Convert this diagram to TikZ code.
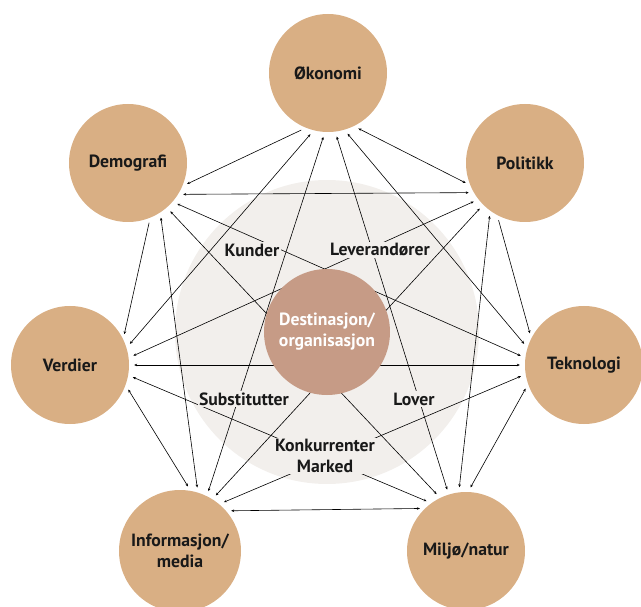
\documentclass[tikz,border=0pt]{standalone}
\usepackage{fontspec}
\setmainfont{PT Sans}
\usetikzlibrary{arrows.meta,backgrounds}

\definecolor{sand}{RGB}{217,175,132}
\definecolor{rose}{RGB}{198,155,134}
\definecolor{mist}{RGB}{242,239,236}

\begin{document}
\begin{tikzpicture}[x=1pt, y=-1pt, >={Stealth[length=3pt,width=2.6pt]},
  factor/.style={circle, fill=sand, minimum size=118pt, inner sep=0pt, align=center, text=black!90, font=\fontsize{17.7}{21}\selectfont\bfseries},
  force/.style={fill=mist, inner sep=1.5pt, align=center, text=black!90, font=\fontsize{17.7}{21}\selectfont\bfseries},
  link/.style={line width=0.6pt, shorten <=5pt, shorten >=5pt}]

\useasboundingbox (0,0) rectangle (641,607);
\clip (0,0) rectangle (641,607);

% Outer factors
\node[factor] (oko) at (328,73) {Økonomi};
\node[factor] (demo) at (128,163) {Demografi};
\node[factor] (pol) at (525,163) {Politikk};
\node[factor] (verd) at (70,365) {Verdier};
\node[factor] (tek) at (584,365) {Teknologi};
\node[factor, minimum size=122pt] (info) at (180,551) {Informasjon/\\media};
\node[factor] (milj) at (466,551) {Miljø/natur};

% Destination in the middle
\node[factor, fill=rose, minimum size=126pt, text=white] (dest) at (327,332) {Destinasjon/\\organisasjon};

% Forces around the destination
\node[force] (kund) at (252,250) {Kunder};
\node[force] (lev) at (380,250) {Leverandører};
\node[force] (sub) at (244,399) {Substitutter};
\node[force] (lov) at (414,399) {Lover};
\node[force] (konk) at (325,456) {Konkurrenter\\Marked};

\begin{scope}[on background layer]
% Light disc behind the destination
\node[circle, fill=mist, minimum size=304pt] (halo) at (327,332) {};

% Draw every link between the factors
\draw[link, ->] (oko.-112) -- (demo.-23);
\draw[link, <->] (oko.-104) -- (verd.17);
\draw[link, <->] (oko.-93) -- (info.64);
\draw[link, <->] (oko.-83) -- (milj.107);
\draw[link, <->] (oko.-74) -- (tek.163);
\draw[link, <->] (oko.-64) -- (pol.-158);

\draw[link, <->] (demo.-32) -- (pol.-150);
\draw[link, ->] (demo.-68) -- (verd.26);
\draw[link, <->] (demo.-41) -- (tek.173);
\draw[link, <->] (demo.-57) -- (info.73);
\draw[link, <->] (demo.-49) -- (milj.116);

\draw[link, <->] (pol.-142) -- (verd.7);
\draw[link, ->] (pol.-118) -- (tek.153);
\draw[link, <->] (pol.-135) -- (info.58);
\draw[link, <->] (pol.-126) -- (milj.97);

\draw[link, <->] (verd.0) -- (tek.180);
\draw[link, <->] (verd.-20) -- (info.80);
\draw[link, <->] (verd.-10) -- (milj.126);

\draw[link, <->] (tek.-171) -- (info.50);
\draw[link, <->] (tek.-161) -- (milj.88);

\draw[link, <->] (info.41) -- (milj.134);
\end{scope}

\end{tikzpicture}
\end{document}
